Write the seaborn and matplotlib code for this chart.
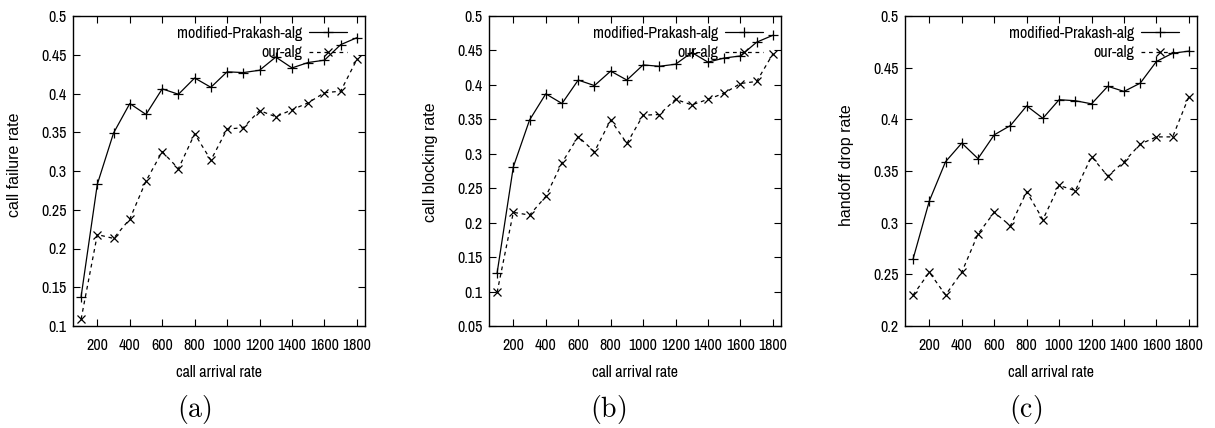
import matplotlib
matplotlib.use("Agg")
import matplotlib.pyplot as plt
import seaborn as sns
import pandas as pd
from matplotlib import font_manager as fm

# ---- data ----
arrival = [100, 200, 300, 400, 500, 600, 700, 800, 900, 1000, 1100, 1200, 1300, 1400, 1500, 1600, 1700, 1800]

failure_prakash = [0.138, 0.283, 0.349, 0.387, 0.373, 0.406, 0.399, 0.420, 0.408, 0.428, 0.427, 0.430, 0.447, 0.433, 0.440, 0.443, 0.463, 0.472]
failure_our = [0.109, 0.218, 0.213, 0.238, 0.287, 0.325, 0.303, 0.348, 0.314, 0.354, 0.356, 0.378, 0.370, 0.379, 0.388, 0.401, 0.403, 0.444]

blocking_prakash = [0.127, 0.281, 0.349, 0.387, 0.373, 0.407, 0.399, 0.420, 0.407, 0.429, 0.427, 0.430, 0.447, 0.433, 0.439, 0.442, 0.462, 0.472]
blocking_our = [0.099, 0.215, 0.211, 0.238, 0.287, 0.325, 0.303, 0.349, 0.315, 0.356, 0.357, 0.379, 0.371, 0.379, 0.388, 0.402, 0.405, 0.445]

handoff_prakash = [0.265, 0.321, 0.359, 0.377, 0.362, 0.385, 0.394, 0.413, 0.401, 0.419, 0.418, 0.415, 0.432, 0.427, 0.435, 0.456, 0.464, 0.466]
handoff_our = [0.230, 0.252, 0.230, 0.252, 0.289, 0.310, 0.297, 0.330, 0.303, 0.336, 0.331, 0.364, 0.345, 0.359, 0.376, 0.383, 0.383, 0.422]

series_names = ["modified-Prakash-alg", "our-alg"]
ylabels = ["call failure rate", "call blocking rate", "handoff drop rate"]
xlabel = "call arrival rate"
captions = ["(a)", "(b)", "(c)"]
xticks = [200, 400, 600, 800, 1000, 1200, 1400, 1600, 1800]
ylims = [(0.1, 0.5), (0.05, 0.5), (0.2, 0.5)]

panels = [
    (failure_prakash, failure_our),
    (blocking_prakash, blocking_our),
    (handoff_prakash, handoff_our),
]

# ---- fonts ----
installed = {f.name for f in fm.fontManager.ttflist}
narrow_pref = ["Liberation Sans Narrow", "Arial Narrow", "Archivo Narrow", "PT Sans Narrow",
               "Roboto Condensed", "Pragati Narrow", "Open Sans Condensed"]
narrow = [n for n in narrow_pref if n in installed][:1] + ["Liberation Sans", "DejaVu Sans"]
regular = ["Liberation Sans", "DejaVu Sans"]

# ---- style ----
sns.set_style("ticks")
plt.rcParams["font.family"] = narrow
plt.rcParams["mathtext.fontset"] = "cm"
plt.rcParams.update({
    "xtick.direction": "in", "ytick.direction": "in",
    "xtick.top": True, "ytick.right": True,
    "xtick.major.size": 5, "ytick.major.size": 5,
    "xtick.major.width": 0.8, "ytick.major.width": 0.8,
    "axes.linewidth": 1.0, "axes.edgecolor": "black",
    "xtick.color": "black", "ytick.color": "black",
    "text.color": "black", "axes.labelcolor": "black",
})

FS = 11.5
W, H = 1215, 428
fig = plt.figure(figsize=(W / 100, H / 100), dpi=100)

lefts = [73, 489, 905]
ax_w, top, bottom = 292, 16, 326
ylab_pos = [(15, 165), (430, 162), (847, 165)]
cap_x = [194, 608, 1026]

for i, (prak, our) in enumerate(panels):
    ax = fig.add_axes([lefts[i] / W, 1 - bottom / H, ax_w / W, (bottom - top) / H])
    df = pd.DataFrame({"x": arrival, "prak": prak, "our": our})
    sns.lineplot(data=df, x="x", y="prak", ax=ax, color="black", linewidth=0.9,
                 marker="+", markersize=7.5, markeredgewidth=0.9, markeredgecolor="black",
                 label=series_names[0], linestyle="-")
    sns.lineplot(data=df, x="x", y="our", ax=ax, color="black", linewidth=0.9,
                 marker="x", markersize=6, markeredgewidth=0.9, markeredgecolor="black",
                 label=series_names[1], linestyle=(0, (3, 3)))
    ax.set_xlim(50, 1850)
    ax.set_ylim(*ylims[i])
    ax.set_xticks(xticks)
    ax.set_xticklabels([str(t) for t in xticks])
    yt = []
    v = ylims[i][0]
    while v <= ylims[i][1] + 1e-9:
        yt.append(round(v, 2))
        v += 0.05
    ax.set_yticks(yt)
    ax.set_yticklabels([f"{t:g}" for t in yt])
    ax.tick_params(axis="x", labelsize=FS, pad=8.5)
    ax.tick_params(axis="y", labelsize=FS, pad=4.5)
    ax.set_xlabel(xlabel, fontsize=FS)
    ax.xaxis.set_label_coords(0.5, -0.125)
    ax.set_ylabel("")
    for s in ax.spines.values():
        s.set_visible(True)
    fig.text(ylab_pos[i][0] / W, 1 - ylab_pos[i][1] / H, ylabels[i], rotation=90,
             ha="center", va="center", fontsize=11.5, family=regular)
    fig.text(cap_x[i] / W, 1 - 410 / H, r"$\mathrm{" + captions[i] + "}$", ha="center", va="center",
             fontsize=20)
    ax.legend(loc="upper right", bbox_to_anchor=(0.95, 0.978), frameon=False, markerfirst=False,
              fontsize=FS, handlelength=2.4, handletextpad=0.4, labelspacing=0.28,
              borderaxespad=0.0, borderpad=0.2)

fig.savefig("out.png", dpi=100)
